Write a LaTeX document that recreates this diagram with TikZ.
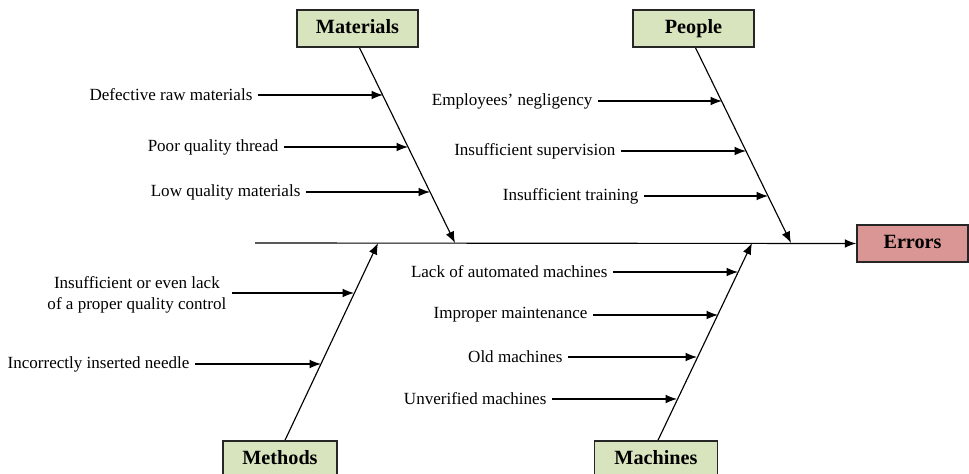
\documentclass[tikz,border=0pt]{standalone}
\usepackage{fontspec}
\setmainfont{Liberation Serif}
\usetikzlibrary{arrows.meta}
\definecolor{catgreen}{HTML}{D7E4BD}
\definecolor{errred}{HTML}{D99694}

\begin{document}
\begin{tikzpicture}[x=0.02cm,y=-0.02cm,
    catbox/.style={draw=black!85,line width=0.9pt,fill=catgreen,minimum width=2.42cm,minimum height=0.74cm,inner sep=0pt,text height=1.6ex,text depth=0.3ex,font=\fontsize{11.5}{13}\selectfont\bfseries},
    cause/.style={anchor=east,inner sep=3pt,align=center,font=\fontsize{9.7}{11.6}\selectfont},
    bone/.style={line width=0.65pt,-{Latex[length=6.5pt,width=5pt]}}]
			\useasboundingbox (0,0) rectangle (969,473);
			% head and spine
			\node[catbox,fill=errred,minimum width=2.22cm] (err) at (912.5,243.5) {Errors};
			\coordinate (tail) at (255,243);
			\draw[bone] (tail) -- (err.west);
			% category boxes
			\node[catbox] (mat) at (357.5,28.5) {Materials};
			\node[catbox] (ppl) at (693.5,28.5) {People};
			\node[catbox,minimum width=2.28cm] (meth) at (280,459.5) {Methods};
			\node[catbox,minimum width=2.46cm] (mach) at (656,459.5) {Machines};
			% ends of the bones on the spine
			\coordinate (matEnd) at (455,243);
			\coordinate (pplEnd) at (791,243);
			\coordinate (methEnd) at (378,243);
			\coordinate (machEnd) at (752,243);
			\draw[bone] (mat.south) ++(2,0) coordinate (matTop) -- (matEnd);
			\draw[bone] (ppl.south) ++(2,0) coordinate (pplTop) -- (pplEnd);
			\draw[bone] (meth.north) ++(5,0) coordinate (methBot) -- (methEnd);
			\draw[bone] (mach.north) ++(2,0) coordinate (machBot) -- (machEnd);
			% causes: Materials
			\node[cause] (m1) at (258,95) {Defective raw materials};
			\node[cause] (m2) at (284,147) {Poor quality thread};
			\node[cause] (m3) at (306,192) {Low quality materials};
			% causes: People
			\node[cause] (p1) at (598,101) {Employees' negligency};
			\node[cause] (p2) at (621,151) {Insufficient supervision};
			\node[cause] (p3) at (644,196) {Insufficient training};
			% causes: Methods
			\node[cause] (d1) at (232,295) {Insufficient or even lack\\of a proper quality control};
			\node[cause] (d2) at (195,364) {Incorrectly inserted needle};
			% causes: Machines
			\node[cause] (c1) at (613,272) {Lack of automated machines};
			\node[cause] (c2) at (593,315) {Improper maintenance};
			\node[cause] (c3) at (568,357) {Old machines};
			\node[cause] (c4) at (552,399) {Unverified machines};
			% points on the bones
			\foreach \n/\px/\py in {m1/383/95,m2/408/147,m3/430/192,
			                        p1/722/101,p2/746/151,p3/768/196,
			                        d2/321/364,
			                        c1/738/272,c2/718/315,c3/697/357,c4/677/399}{
				\coordinate (\n x) at (\px,\py);
				\draw[bone] (\n.east) -- (\n x);
			}
			\coordinate (d1x) at (354,293);
			\draw[bone] (d1.east |- d1x) -- (d1x);
		\end{tikzpicture}
\end{document}
